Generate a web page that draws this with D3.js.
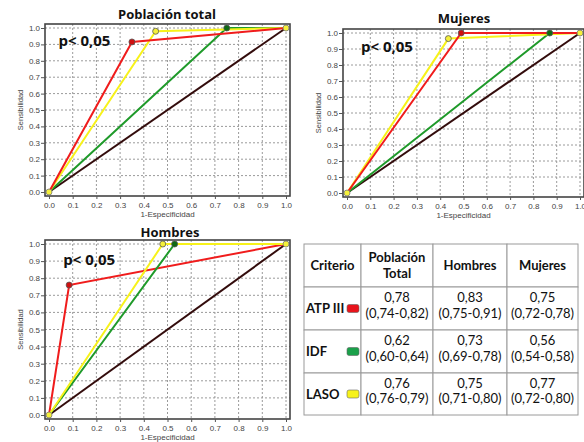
<!DOCTYPE html>
<html>
<head>
<meta charset="utf-8">
<script src="https://cdn.jsdelivr.net/npm/d3@7"></script>
<style>
  body { margin: 0; background: #fff; }
  svg { display: block; }
</style>
</head>
<body>
<div id="chart"></div>
<script>
// ROC curves, values
const ticks = [0, 0.1, 0.2, 0.3, 0.4, 0.5, 0.6, 0.7, 0.8, 0.9, 1.0];

const totalATP = [[0, 0], [0.35, 0.915], [1, 1]];
const totalIDF = [[0, 0], [0.75, 1.0], [1, 1]];
const totalLASO = [[0, 0], [0.45, 0.98], [1, 1]];

const mujeresATP = [[0, 0], [0.49, 1.0], [1, 1]];
const mujeresIDF = [[0, 0], [0.87, 1.0], [1, 1]];
const mujeresLASO = [[0, 0], [0.435, 0.965], [1, 1]];

const hombresATP = [[0, 0], [0.085, 0.76], [1, 1]];
const hombresIDF = [[0, 0], [0.53, 1.0], [1, 1]];
const hombresLASO = [[0, 0], [0.48, 1.0], [1, 1]];

const diagonal = [[0, 0], [1, 1]];

// table
const columns = ["Criterio", "Población\nTotal", "Hombres", "Mujeres"];
const criterios = ["ATP III", "IDF", "LASO"];
const aucTotal = ["0,78\n(0,74-0,82)", "0,62\n(0,60-0,64)", "0,76\n(0,76-0,79)"];
const aucHombres = ["0,83\n(0,75-0,91)", "0,73\n(0,69-0,78)", "0,75\n(0,71-0,80)"];
const aucMujeres = ["0,75\n(0,72-0,78)", "0,56\n(0,54-0,58)", "0,77\n(0,72-0,80)"];

const red = "#f01c1c", green = "#1f9a2a", yellow = "#f7f21a", brown = "#330c0c";
const swatchColors = ["#e8141c", "#1aa04a", "#f7f21a"];

let width = 584, height = 442;
let svg = d3.select("#chart").append("svg").attr("width", width).attr("height", height);

function drawPanel(p) {
  let x = d3.scaleLinear().domain([0, 1]).range([p.x0, p.x1]);
  let y = d3.scaleLinear().domain([0, 1]).range([p.y0, p.y1]);
  let g = svg.append("g");
  let pad = 4;

  // frame
  g.append("rect")
    .attr("x", x(0) - pad).attr("y", y(1) - pad)
    .attr("width", x(1) - x(0) + 2 * pad).attr("height", y(0) - y(1) + 2 * pad)
    .attr("fill", "#fff");

  // grid
  g.selectAll(".gx").data(ticks.slice(1)).enter().append("line")
    .attr("x1", d => x(d)).attr("x2", d => x(d))
    .attr("y1", y(1) - pad).attr("y2", y(0) + pad)
    .attr("stroke", "#9a9a9a").attr("stroke-width", 1).attr("stroke-dasharray", "2,2");
  g.selectAll(".gy").data(ticks.slice(1)).enter().append("line")
    .attr("y1", d => y(d)).attr("y2", d => y(d))
    .attr("x1", x(0) - pad).attr("x2", x(1) + pad)
    .attr("stroke", "#9a9a9a").attr("stroke-width", 1).attr("stroke-dasharray", "2,2");

  g.append("rect")
    .attr("x", x(0) - pad).attr("y", y(1) - pad)
    .attr("width", x(1) - x(0) + 2 * pad).attr("height", y(0) - y(1) + 2 * pad)
    .attr("fill", "none").attr("stroke", "#444").attr("stroke-width", 1.6);

  // axes
  let xAxis = d3.axisBottom(x).tickValues(ticks).tickFormat(d3.format(".1f")).tickSize(3).tickSizeOuter(0);
  let yAxis = d3.axisLeft(y).tickValues(ticks).tickFormat(d3.format(".1f")).tickSize(4).tickSizeOuter(0);
  let ax = g.append("g").attr("transform", "translate(0," + (y(0) + pad) + ")").call(xAxis);
  let ay = g.append("g").attr("transform", "translate(" + (x(0) - pad) + ",0)").call(yAxis);
  [ax, ay].forEach(a => {
    a.select(".domain").remove();
    a.selectAll(".tick line").attr("stroke", "#555");
    a.selectAll("text").attr("fill", "#444").style("font-family", "Liberation Sans, Arial").style("font-size", "8px");
  });
  ay.selectAll("text").attr("x", -5);

  g.append("text").attr("x", (x(0) + x(1)) / 2).attr("y", y(0) + pad + 21)
    .attr("text-anchor", "middle").attr("fill", "#444")
    .style("font-family", "Liberation Sans, Arial").style("font-size", "8px")
    .text("1-Especificidad");
  g.append("text")
    .attr("transform", "translate(" + (x(0) - 26) + "," + ((y(0) + y(1)) / 2) + ") rotate(-90)")
    .attr("text-anchor", "middle").attr("fill", "#444")
    .style("font-family", "Liberation Sans, Arial").style("font-size", "7.5px")
    .text("Sensibilidad");

  // title
  g.append("text").attr("x", p.titleX).attr("y", p.titleY).attr("text-anchor", "middle")
    .attr("fill", "#111").style("font-family", "Open Sans").style("font-weight", "bold").style("font-size", "13px")
    .text(p.title);

  // p value
  g.append("text").attr("x", x(p.pX)).attr("y", y(p.pY))
    .attr("fill", "#111").style("font-family", "Open Sans").style("font-weight", "bold").style("font-size", "15px")
    .text("p< 0,05");

  let line = d3.line().x(d => x(d[0])).y(d => y(d[1]));
  let series = [
    { data: diagonal, color: brown },
    { data: p.idf, color: green, mark: "#0f6a12" },
    { data: p.laso, color: yellow, mark: "#f5f03a" },
    { data: p.atp, color: red, mark: "#d01010" }
  ];
  if (p.order) series = p.order.map(i => series[i]);
  series.forEach(s => {
    g.append("path").datum(s.data).attr("d", line)
      .attr("fill", "none").attr("stroke", s.color).attr("stroke-width", 2);
  });
  series.forEach(s => {
    if (!s.mark) return;
    g.append("circle").attr("cx", x(s.data[1][0])).attr("cy", y(s.data[1][1])).attr("r", 3)
      .attr("fill", s.mark).attr("stroke", "#555").attr("stroke-width", 0.8);
  });
  // yellow end points
  [diagonal[0], diagonal[1]].forEach(d => {
    g.append("circle").attr("cx", x(d[0])).attr("cy", y(d[1])).attr("r", 3)
      .attr("fill", "#f5f03a").attr("stroke", "#777").attr("stroke-width", 0.8);
  });
}

drawPanel({ title: "Población total", titleX: 167, titleY: 19, x0: 49, x1: 286, y0: 192, y1: 28,
  pX: 0.04, pY: 0.89, atp: totalATP, idf: totalIDF, laso: totalLASO });
drawPanel({ title: "Mujeres", titleX: 464, titleY: 23, x0: 347, x1: 580, y0: 193, y1: 33,
  pX: 0.06, pY: 0.88, atp: mujeresATP, idf: mujeresIDF, laso: mujeresLASO });
drawPanel({ title: "Hombres", titleX: 170, titleY: 237, x0: 49, x1: 286, y0: 415, y1: 244,
  pX: 0.06, pY: 0.88, atp: hombresATP, idf: hombresIDF, laso: hombresLASO, order: [0, 3, 1, 2] });

// table
let tx = [304, 361, 433, 507, 578];
let ty = [244, 287, 330, 373, 415];
let tg = svg.append("g").style("font-family", "Lato, Open Sans");
let rows = criterios.map((c, i) => [c, aucTotal[i], aucHombres[i], aucMujeres[i]]);
let cells = [columns].concat(rows);

cells.forEach((row, r) => {
  row.forEach((val, c) => {
    tg.append("rect").attr("x", tx[c]).attr("y", ty[r])
      .attr("width", tx[c + 1] - tx[c]).attr("height", ty[r + 1] - ty[r])
      .attr("fill", "#fff").attr("stroke", "#9a9a9a").attr("stroke-width", 1);
    let lines = val.split("\n");
    let cx = (tx[c] + tx[c + 1]) / 2, cy = (ty[r] + ty[r + 1]) / 2;
    let bold = r === 0 || c === 0;
    let anchor = "middle";
    if (r > 0 && c === 0) { cx = tx[0] + 2; anchor = "start"; }
    // body cells sit a bit above the middle of the row
    let top = r > 0 && lines.length > 1 ? cy - 6.5 : cy + 4.5 - (lines.length - 1) * 7.75;
    lines.forEach((l, k) => {
      tg.append("text").attr("text-anchor", anchor).attr("fill", "#111")
        .style("font-size", "13px")
        .style("font-weight", bold ? "bold" : "normal")
        .attr("x", cx)
        .attr("y", top + k * 15.5)
        .text(l);
    });
  });
});

// legend swatches
criterios.forEach((c, i) => {
  tg.append("rect").attr("x", 347).attr("y", (ty[i + 1] + ty[i + 2]) / 2 - 4)
    .attr("width", 12).attr("height", 8).attr("rx", 2)
    .attr("fill", swatchColors[i]).attr("stroke", "#666").attr("stroke-width", 0.6);
});
</script>
</body>
</html>
